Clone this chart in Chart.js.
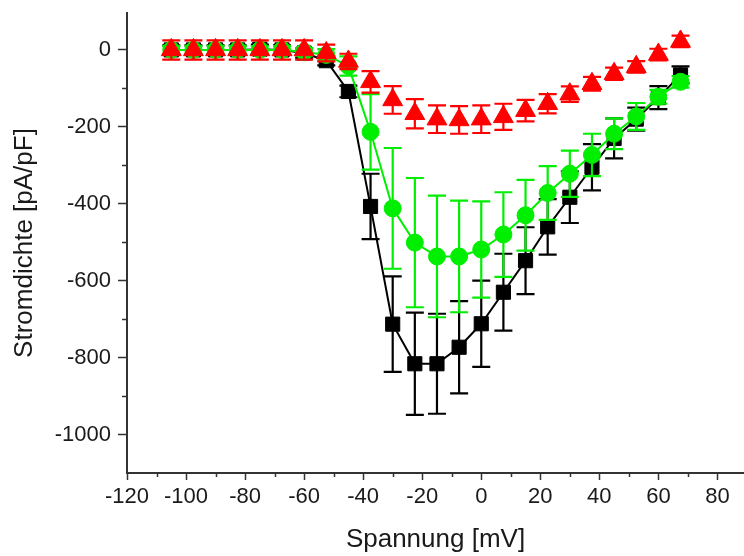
<!DOCTYPE html>
<html>
<head>
<meta charset="utf-8">
<script src="https://cdn.jsdelivr.net/npm/chart.js"></script>
<style>
    html, body { margin: 0; padding: 0; background: #fff; }
    #grafico { display: block; }
</style>
</head>
<body>
<canvas id="grafico" width="744" height="556"></canvas>
<script>
// Dados (Spannung em mV, Stromdichte em pA/pF)
const tensoes = [-105, -97.5, -90, -82.5, -75, -67.5, -60, -52.5, -45, -37.5, -30, -22.5,
                 -15, -7.5, 0, 7.5, 15, 22.5, 30, 37.5, 45, 52.5, 60, 67.5];

// quadrados pretos
const pretoValores = [0, 0, 0, 0, 2, 0, -8, -28, -108, -407, -713, -816,
                      -816, -773, -712, -630, -548, -460, -383, -305, -230, -180, -124, -65];
const pretoErros = [12, 12, 12, 12, 12, 12, 12, 12, 15, 85, 124, 133,
                    130, 120, 112, 100, 87, 72, 67, 60, 52, 30, 30, 22];

// circulos verdes
const verdeValores = [0, 0, 0, 0, 0, 0, -5, -13, -42, -213, -412, -501,
                      -537, -537, -519, -480, -430, -372, -322, -273, -218, -173, -122, -83];
const verdeErros = [10, 10, 10, 10, 10, 10, 10, 15, 25, 98, 157, 168,
                    158, 145, 125, 110, 92, 70, 60, 55, 40, 35, 18, 15];

// triangulos vermelhos
const vermelhoValores = [0, 0, 0, 0, 0, 0, 0, -8, -30, -83, -130, -166,
                         -180, -182, -180, -174, -158, -140, -115, -88, -62, -44, -12, 22];
const vermelhoErros = [25, 25, 25, 25, 25, 25, 25, 22, 20, 28, 36, 38,
                       36, 36, 36, 34, 28, 25, 20, 18, 16, 15, 15, 15];

// ticks dos eixos
const ticksX = [-120, -100, -80, -60, -40, -20, 0, 20, 40, 60, 80];
const ticksY = [-1000, -800, -600, -400, -200, 0];

const tituloX = 'Spannung [mV]';
const tituloY = 'Stromdichte [pA/pF]';

function pontos(valores) {
    return tensoes.map((t, i) => ({ x: t, y: valores[i] }));
}

// Barras de erro desenhadas antes de cada dataset (assim os simbolos ficam por cima)
const barrasDeErro = {
    id: 'barrasDeErro',
    beforeDatasetDraw(chart, args) {
        const ds = chart.data.datasets[args.index];
        if (!ds.erros) return;
        const ctx = chart.ctx;
        const escalaX = chart.scales.x;
        const escalaY = chart.scales.y;
        ctx.save();
        ctx.strokeStyle = ds.corErro;
        ctx.lineWidth = 2.2;
        ctx.beginPath();
        ds.data.forEach((p, i) => {
            const px = escalaX.getPixelForValue(p.x);
            const topo = escalaY.getPixelForValue(p.y + ds.erros[i]);
            const base = escalaY.getPixelForValue(p.y - ds.erros[i]);
            ctx.moveTo(px, topo);
            ctx.lineTo(px, base);
            ctx.moveTo(px - 9, topo);
            ctx.lineTo(px + 9, topo);
            ctx.moveTo(px - 9, base);
            ctx.lineTo(px + 9, base);
        });
        ctx.stroke();
        ctx.restore();
    }
};

// Ticks menores entre os ticks principais
const ticksMenores = {
    id: 'ticksMenores',
    afterDraw(chart) {
        const ctx = chart.ctx;
        const escalaX = chart.scales.x;
        const escalaY = chart.scales.y;
        ctx.save();
        ctx.strokeStyle = '#333';
        ctx.lineWidth = 1.5;
        ctx.beginPath();
        escalaX.ticks.forEach(t => {
            const v = t.value + 10;
            if (v > escalaX.max) return;
            const px = Math.round(escalaX.getPixelForValue(v)) + 0.5;
            ctx.moveTo(px, escalaX.top);
            ctx.lineTo(px, escalaX.top + 4);
        });
        escalaY.ticks.forEach(t => {
            const v = t.value + 100;
            if (v > escalaY.max) return;
            const py = Math.round(escalaY.getPixelForValue(v)) + 0.5;
            ctx.moveTo(escalaY.right, py);
            ctx.lineTo(escalaY.right - 5, py);
        });
        ctx.stroke();
        ctx.restore();
    }
};

function criarGraficoIV(id) {
    const fonteTicks = { family: 'Liberation Sans, Arial, sans-serif', size: 22 };
    const fonteTitulo = { family: 'Liberation Sans, Arial, sans-serif', size: 26, lineHeight: 1 };
    const verde = '#00ee00';

    return new Chart(document.getElementById(id), {
        type: 'line',
        data: {
            datasets: [{
                data: pontos(vermelhoValores),
                erros: vermelhoErros,
                corErro: '#ff0000',
                showLine: false,
                pointStyle: 'triangle',
                pointRadius: 11.5,
                pointBackgroundColor: '#ff0000',
                pointBorderColor: '#ff0000',
                pointBorderWidth: 1
            }, {
                data: pontos(verdeValores),
                erros: verdeErros,
                corErro: verde,
                borderColor: verde,
                borderWidth: 2,
                tension: 0,
                pointStyle: 'circle',
                pointRadius: 8.5,
                pointBackgroundColor: verde,
                pointBorderColor: verde,
                pointBorderWidth: 1
            }, {
                data: pontos(pretoValores),
                erros: pretoErros,
                corErro: '#000',
                borderColor: '#000',
                borderWidth: 2,
                tension: 0,
                pointStyle: 'rect',
                pointRadius: 10,
                pointBackgroundColor: '#000',
                pointBorderColor: '#000',
                pointBorderWidth: 1
            }]
        },
        options: {
            responsive: false,
            animation: false,
            events: [],
            devicePixelRatio: 1,
            layout: { autoPadding: false, padding: { top: 13, right: 0, left: 0, bottom: 0 } },
            plugins: {
                legend: { display: false },
                tooltip: { enabled: false }
            },
            scales: {
                x: {
                    type: 'linear',
                    min: -120,
                    max: 89,
                    afterBuildTicks: (escala) => { escala.ticks = ticksX.map(v => ({ value: v })); },
                    afterFit: (escala) => {
                        escala.height = 83;
                        escala.paddingLeft = 0;
                        escala.paddingRight = 0;
                    },
                    ticks: {
                        color: '#1a1a1a',
                        font: fonteTicks,
                        padding: 4,
                        maxRotation: 0,
                        autoSkip: false,
                        callback: (v) => String(v)
                    },
                    grid: { drawOnChartArea: false, tickLength: 7, tickColor: '#333', tickWidth: 1.5 },
                    border: { display: true, color: '#333', width: 2 },
                    title: { display: true, text: tituloX, color: '#1a1a1a', font: fonteTitulo, padding: { top: 0, bottom: 3 } }
                },
                y: {
                    type: 'linear',
                    min: -1100,
                    max: 96,
                    afterBuildTicks: (escala) => { escala.ticks = ticksY.map(v => ({ value: v })); },
                    afterFit: (escala) => {
                        escala.width = 127;
                        escala.paddingTop = 0;
                        escala.paddingBottom = 0;
                    },
                    ticks: {
                        color: '#1a1a1a',
                        font: fonteTicks,
                        padding: 7,
                        autoSkip: false,
                        callback: (v) => String(v)
                    },
                    grid: { drawOnChartArea: false, tickLength: 9, tickColor: '#333', tickWidth: 1.5 },
                    border: { display: true, color: '#333', width: 2 },
                    title: { display: true, text: tituloY, color: '#1a1a1a', font: fonteTitulo, padding: { top: 12, bottom: 0 } }
                }
            }
        },
        plugins: [barrasDeErro, ticksMenores]
    });
}

criarGraficoIV('grafico');
</script>
</body>
</html>
